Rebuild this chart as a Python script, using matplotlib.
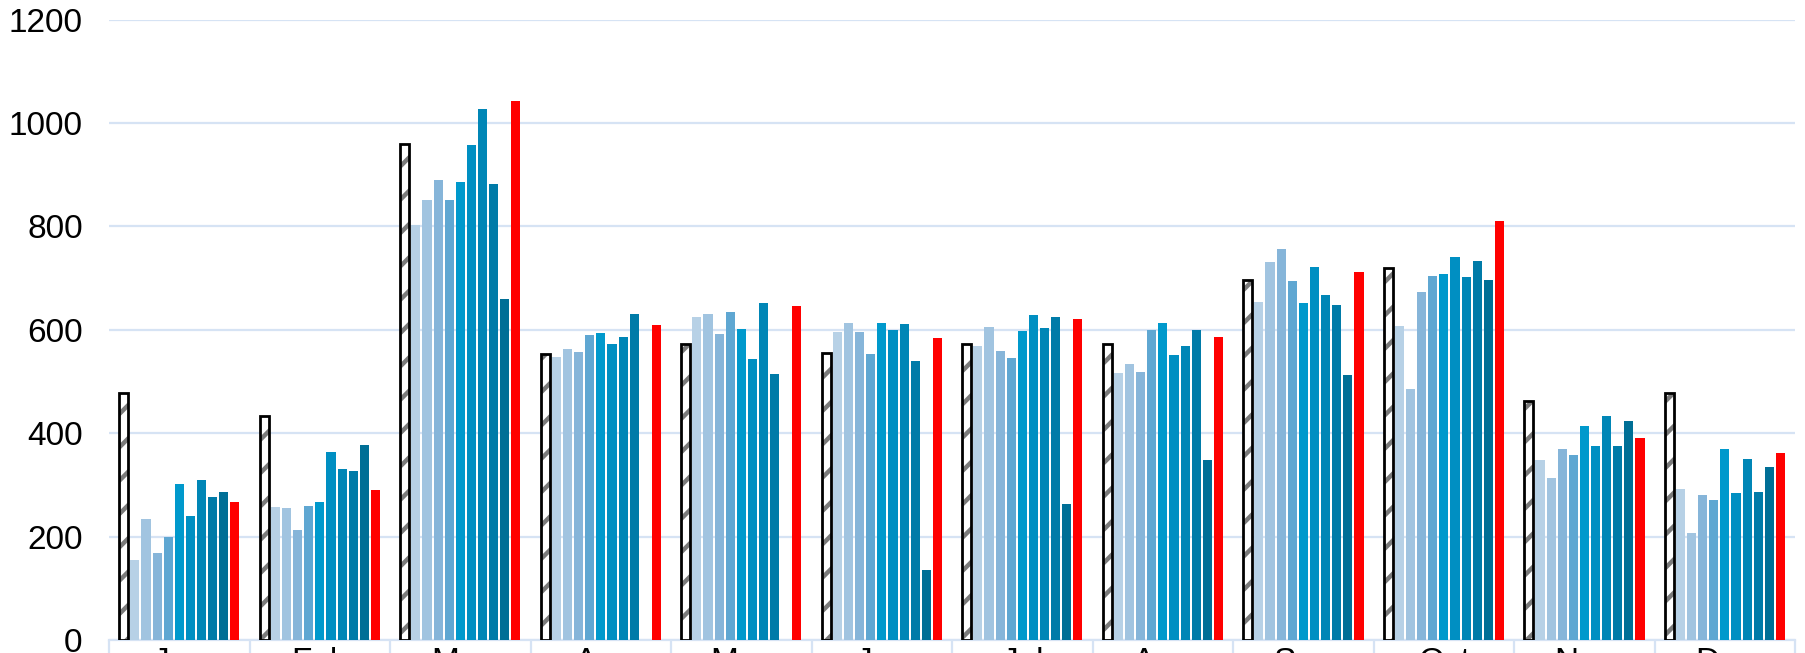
import numpy as np
import matplotlib
matplotlib.use("Agg")
import matplotlib.pyplot as plt
from matplotlib.ticker import FixedLocator, MultipleLocator

months = ["Jan", "Feb", "Mar", "Apr", "May", "Jun",
          "Jul", "Aug", "Sep", "Oct", "Nov", "Dec"]

# hatched reference bar (first in each group)
ref = [478, 433, 959, 554, 572, 555, 573, 572, 697, 719, 463, 478]

# nine blue series, light -> dark
s1 = [155, 257, 802, 548, 624, 595, 568, 516, 653, 608, 349, 292]
s2 = [234, 255, 851, 563, 631, 613, 606, 533, 732, 485, 313, 207]
s3 = [168, 213, 890, 558, 591, 595, 559, 518, 757, 673, 370, 281]
s4 = [200, 260, 851, 590, 635, 553, 546, 600, 694, 704, 357, 270]
s5 = [302, 266, 886, 594, 601, 613, 597, 613, 652, 708, 413, 370]
s6 = [239, 364, 958, 573, 544, 600, 628, 552, 721, 741, 376, 284]
s7 = [310, 331, 1028, 587, 651, 611, 603, 568, 668, 703, 433, 351]
s8 = [276, 326, 882, 631, 515, 540, 624, 600, 648, 733, 375, 286]
s9 = [287, 378, 659, np.nan, np.nan, 136, 264, 349, 512, 696, 424, 335]

# red (last) series
latest = [266, 290, 1042, 610, 646, 584, 621, 586, 712, 811, 391, 362]

blues = ["#b7d1e6", "#a1c4e0", "#86b5d9", "#5fa7d2", "#0099cc",
         "#008fc2", "#0086b6", "#007ba8", "#006f96"]
GRID = "#d6e3f4"

plt.rcParams["font.family"] = ["Liberation Sans", "DejaVu Sans"]
plt.rcParams["hatch.linewidth"] = 3.2

fig = plt.figure(figsize=(18.06, 6.53), dpi=100)
ax = fig.add_axes([0.0604, 0.0199, 0.9336, 0.9501])

x = np.arange(len(months))
n = 11
span = 0.87
slot = span / n
bw = slot * 0.82

def pos(k):
    return x - span / 2 + slot * (k + 0.5)

# hatched bar: gray hatch, black outline drawn separately
ax.bar(pos(0), ref, bw, color="white", edgecolor="#7a7a7a", linewidth=0,
       hatch="/", zorder=3)
ax.bar(pos(0), ref, bw, fill=False, edgecolor="black", linewidth=2, zorder=4)

for k, (vals, c) in enumerate(zip([s1, s2, s3, s4, s5, s6, s7, s8, s9], blues)):
    ax.bar(pos(k + 1), vals, bw, color=c, linewidth=0, zorder=3)

ax.bar(pos(10), latest, bw, color="#ff0000", linewidth=0, zorder=3)

ax.set_xlim(-0.5, len(months) - 0.5)
ax.set_ylim(0, 1200)
ax.yaxis.set_major_locator(MultipleLocator(200))
ax.grid(axis="y", color=GRID, linewidth=1.6, zorder=0)
ax.set_axisbelow(True)

for side in ["top", "right", "left"]:
    ax.spines[side].set_visible(False)
ax.spines["bottom"].set_color(GRID)
ax.spines["bottom"].set_linewidth(1.6)

ax.set_xticks(x)
ax.set_xticklabels(months)
ax.xaxis.set_minor_locator(FixedLocator(np.arange(-0.5, len(months), 1.0)))
ax.tick_params(axis="x", which="major", length=0, pad=5, labelsize=24)
ax.tick_params(axis="x", which="minor", length=20, width=1.6, color=GRID,
               direction="out")
ax.tick_params(axis="y", length=0, pad=19, labelsize=24)

fig.savefig("out.png", dpi=100)
